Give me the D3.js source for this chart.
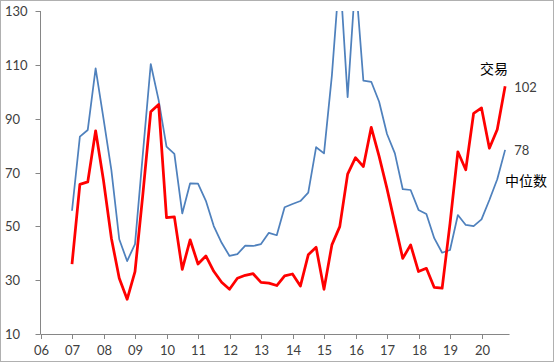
<!DOCTYPE html>
<html>
<head>
<meta charset="utf-8">
<script src="https://cdn.jsdelivr.net/npm/d3@7/dist/d3.min.js"></script>
<style>
	body {margin:0; background:#fff;}
	text {font-family: Lato, "Noto Sans CJK SC", sans-serif;}
</style>
</head>
<body>
<div id="chart"></div>
<script>
// quarterly data, first point = 2007 Q1
var yearLabels = ['06','07','08','09','10','11','12','13','14','15','16','17','18','19','20'];
var yTicks = [10, 30, 50, 70, 90, 110, 130];

// 交易 (red)
var tradeVals = [
	36.0, 65.6, 66.5, 85.5, 67.0, 45.6, 30.7, 22.9,
	33.2, 62.0, 92.6, 95.3, 53.2, 53.5, 34.0, 45.0,
	36.0, 39.0, 33.3, 29.2, 26.6, 30.7, 31.8, 32.4,
	29.2, 28.9, 28.0, 31.6, 32.3, 27.8, 39.4, 42.2,
	26.6, 43.1, 49.9, 69.4, 75.5, 72.2, 86.8, 76.0,
	64.0, 51.0, 38.1, 43.1, 33.2, 34.4, 27.3, 27.0,
	51.0, 77.7, 71.0, 92.0, 94.0, 79.0, 86.0, 102.0
];
// 中位数 (blue)
var medianVals = [
	55.8, 83.3, 85.8, 108.7, 90.0, 70.9, 45.2, 37.1,
	43.4, 77.0, 110.3, 96.9, 79.6, 76.9, 54.8, 66.0,
	65.9, 59.5, 50.1, 43.9, 39.0, 39.7, 42.8, 42.7,
	43.4, 47.6, 46.7, 57.1, 58.3, 59.4, 62.5, 79.4,
	77.1, 106.0, 145.0, 98.0, 142.0, 104.1, 103.7, 96.3,
	84.3, 77.1, 63.8, 63.5, 56.1, 54.6, 45.6, 40.2,
	41.2, 54.2, 50.5, 50.1, 52.6, 59.8, 67.5, 78.4
];
var firstYear = 2007;

function LineChart(conf) {
	this.config = conf;
	this.init();
	this.drawAxes();
	this.drawLines();
	this.drawLabels();
}

LineChart.prototype = {
	init: function () {
		var conf = this.config;
		this.svg = d3.select('#chart').append('svg')
			.attr('width', conf.width).attr('height', conf.height);

		// outer frame
		this.svg.append('rect')
			.attr('x', 0.5).attr('y', 0.5)
			.attr('width', conf.width-1).attr('height', conf.height-1)
			.attr('fill', 'white').attr('stroke', '#b0b0b0');

		this.x_scale = d3.scaleLinear().domain([2006, 2021]).range([40.5, 513]);
		this.y_scale = d3.scaleLinear().domain([10, 130]).range([334, 11]);

		this.svg.append('clipPath').attr('id', 'plotclip')
			.append('rect')
			.attr('x', 40).attr('y', this.y_scale(130))
			.attr('width', 480).attr('height', this.y_scale(10)-this.y_scale(130));
	},
	drawAxes: function () {
		var self = this;
		var svg = self.svg;
		var x0 = self.x_scale(2006), x1 = self.x_scale(2020.89);
		var yb = self.y_scale(10);

		// y axis
		var gy = svg.append('g').attr('class', 'y axis');
		gy.append('line')
			.attr('x1', x0).attr('y1', self.y_scale(130))
			.attr('x2', x0).attr('y2', yb)
			.attr('stroke', '#868686');
		gy.selectAll('g.tick').data(yTicks).enter().append('g').attr('class', 'tick')
			.each(function (d) {
				var g = d3.select(this);
				var y = Math.round(self.y_scale(d))+0.5;
				g.append('line').attr('x1', x0-5).attr('x2', x0).attr('y1', y).attr('y2', y)
					.attr('stroke', '#868686');
				g.append('text').attr('x', 5).attr('y', y).attr('dy', '0.35em')
					.attr('font-size', 13).attr('fill', '#404040').text(d);
			});

		// x axis
		var gx = svg.append('g').attr('class', 'x axis');
		gx.append('line')
			.attr('x1', x0).attr('y1', yb+0.5).attr('x2', x1).attr('y2', yb+0.5)
			.attr('stroke', '#868686');
		gx.selectAll('g.tick').data(yearLabels).enter().append('g').attr('class', 'tick')
			.each(function (d, i) {
				var g = d3.select(this);
				var x = Math.round(self.x_scale(2006+i))+0.5;
				g.append('line').attr('x1', x).attr('x2', x).attr('y1', yb).attr('y2', yb+5)
					.attr('stroke', '#868686');
				g.append('text').attr('x', x).attr('y', yb+16).attr('dy', '0.35em')
					.attr('text-anchor', 'middle')
					.attr('font-size', 13).attr('fill', '#404040').text(d);
			});
	},
	drawLines: function () {
		var self = this;
		var line = d3.line()
			.x(function (d, i) {return self.x_scale(firstYear + i/4);})
			.y(function (d) {return self.y_scale(d);});

		var plot = self.svg.append('g').attr('clip-path', 'url(#plotclip)');
		plot.append('path').datum(medianVals)
			.attr('d', line).attr('fill', 'none')
			.attr('stroke', '#4f81bd').attr('stroke-width', 1.75)
			.attr('stroke-linejoin', 'round');
		plot.append('path').datum(tradeVals)
			.attr('d', line).attr('fill', 'none')
			.attr('stroke', '#ff0000').attr('stroke-width', 2.75)
			.attr('stroke-linejoin', 'round');
	},
	drawLabels: function () {
		var self = this;
		var svg = self.svg;
		var n = tradeVals.length-1;
		var xe = self.x_scale(firstYear + n/4);

		svg.append('text').attr('x', xe+9).attr('y', self.y_scale(tradeVals[n])+1)
			.attr('dy', '0.35em').attr('font-size', 13).attr('fill', '#404040')
			.text(Math.round(tradeVals[n]));
		svg.append('text').attr('x', xe+9).attr('y', self.y_scale(medianVals[n])+1)
			.attr('dy', '0.35em').attr('font-size', 13).attr('fill', '#404040')
			.text(Math.round(medianVals[n]));

		svg.append('text').attr('x', 494).attr('y', 69).attr('dy', '0.35em')
			.attr('text-anchor', 'middle').attr('font-size', 14).attr('fill', '#000')
			.attr('font-family', '"Noto Sans CJK SC", sans-serif').text('交易');
		svg.append('text').attr('x', 526).attr('y', 181).attr('dy', '0.35em')
			.attr('text-anchor', 'middle').attr('font-size', 14).attr('fill', '#000')
			.attr('font-family', '"Noto Sans CJK SC", sans-serif').text('中位数');
	}
};

new LineChart({width: 554, height: 362});
</script>
</body>
</html>
